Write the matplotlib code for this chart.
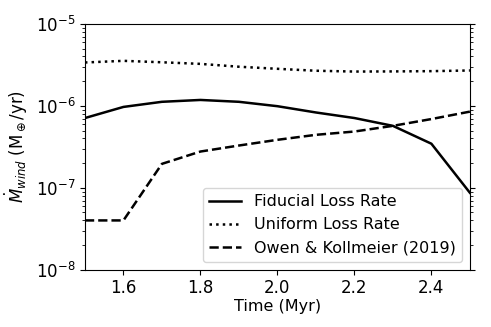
import numpy as np
import matplotlib
matplotlib.use('Agg')
import matplotlib.pyplot as plt

time = [1.5, 1.6, 1.7, 1.8, 1.9, 2.0, 2.1, 2.2, 2.3, 2.4, 2.5]
fiducial = [7.1e-7, 9.7e-7, 1.12e-6, 1.18e-6, 1.12e-6, 9.9e-7, 8.3e-7, 7.1e-7, 5.7e-7, 3.45e-7, 8.7e-8]
uniform = [3.38e-6, 3.54e-6, 3.4e-6, 3.25e-6, 3.0e-6, 2.83e-6, 2.68e-6, 2.62e-6, 2.63e-6, 2.65e-6, 2.7e-6]
owen = [4.0e-8, 4.0e-8, 1.96e-7, 2.77e-7, 3.28e-7, 3.85e-7, 4.43e-7, 4.86e-7, 5.7e-7, 6.9e-7, 8.5e-7]

fig, ax = plt.subplots(figsize=(4.91, 3.27), dpi=100)
ax.plot(time, fiducial, 'k-', lw=1.8, label='Fiducial Loss Rate')
ax.plot(time, uniform, 'k:', lw=1.8, label='Uniform Loss Rate')
ax.plot(time, owen, 'k--', lw=1.8, label='Owen & Kollmeier (2019)')

ax.set_yscale('log')
ax.set_xlim(1.5, 2.5)
ax.set_ylim(1e-8, 1e-5)
ax.set_xticks([1.6, 1.8, 2.0, 2.2, 2.4])
ax.tick_params(axis='y', which='both', right=True, labelsize=12)
ax.tick_params(axis='x', labelsize=12)
ax.set_xlabel('Time (Myr)', fontsize=11.5, labelpad=1)
ax.set_ylabel(r'$\dot{M}_{wind}$ (M$_\oplus$/yr)', fontsize=12)
ax.legend(loc='lower right', fontsize=11.5)

fig.subplots_adjust(left=0.173, right=0.957, top=0.927, bottom=0.175)
plt.savefig('out.png')
